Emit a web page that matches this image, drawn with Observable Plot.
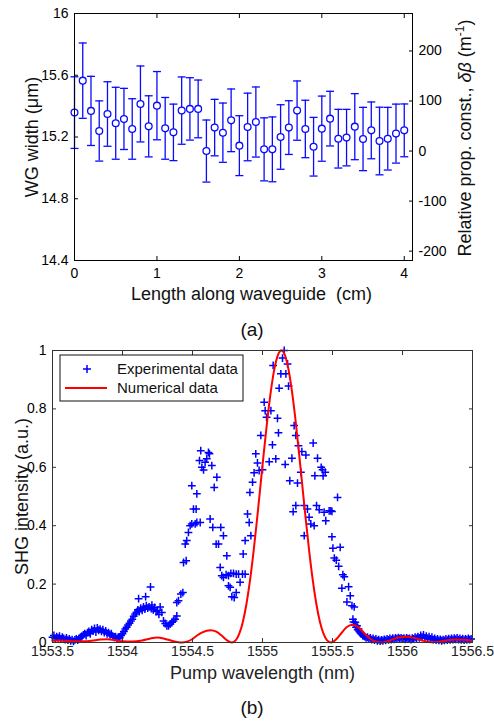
<!DOCTYPE html>
<html><head><meta charset="utf-8">
<script src="https://cdn.jsdelivr.net/npm/d3@7"></script>
<script src="https://cdn.jsdelivr.net/npm/@observablehq/plot@0.6"></script>
<style>
body{margin:0;background:#fff;font-family:"Liberation Sans",Arial,sans-serif;}
#wrap{position:relative;width:494px;height:721px;overflow:hidden;background:#fff;}
.cap{position:absolute;font-size:19px;color:#111;transform:translateX(-50%);line-height:24px;}
</style></head><body><div id="wrap"></div>
<script>
// ---------- (a) waveguide width ----------
const posA = [0,0.1,0.2,0.3,0.4,0.5,0.6,0.7,0.8,0.9,1,1.1,1.2,1.3,1.4,1.5,1.6,1.7,1.8,1.9,2,2.1,2.2,2.3,2.4,2.5,2.6,2.7,2.8,2.9,3,3.1,3.2,3.3,3.4,3.5,3.6,3.7,3.8,3.9,4];
const widthA = [15.358,15.565,15.369,15.239,15.349,15.289,15.317,15.252,15.414,15.269,15.403,15.256,15.230,15.371,15.382,15.382,15.109,15.261,15.228,15.308,15.144,15.265,15.297,15.120,15.120,15.200,15.261,15.371,15.252,15.137,15.254,15.319,15.189,15.196,15.267,15.187,15.243,15.174,15.189,15.222,15.243];
const errA = [0.232,0.244,0.224,0.195,0.209,0.233,0.198,0.196,0.246,0.198,0.221,0.200,0.183,0.218,0.202,0.187,0.201,0.183,0.192,0.203,0.194,0.219,0.227,0.204,0.210,0.209,0.174,0.192,0.186,0.190,0.211,0.177,0.190,0.183,0.214,0.205,0.184,0.219,0.203,0.191,0.171];
const lengthTicks = [0,1,2,3,4];
const widthTicks = [14.4,14.8,15.2,15.6,16];
const widthTickLabels = ["14.4","14.8","15.2","15.6","16"];
const dbetaTicks = [-200,-100,0,100,200];
const dbetaTickLabels = ["-200","-100","0","100","200"];
const widthAtZeroDbeta = 15.109, widthPerDbeta = 0.003242; // right-axis relation

// ---------- (b) SHG spectrum ----------
const lambdaExp = [
1553.50,1553.51,1553.52,1553.53,1553.54,1553.55,1553.56,1553.57,1553.58,1553.59,1553.60,1553.61,1553.62,1553.63,1553.64,1553.65,1553.66,1553.67,1553.68,1553.69,
1553.70,1553.71,1553.72,1553.73,1553.74,1553.75,1553.76,1553.77,1553.78,1553.79,1553.80,1553.81,1553.82,1553.83,1553.84,1553.85,1553.86,1553.87,1553.88,1553.89,
1553.90,1553.91,1553.92,1553.93,1553.94,1553.95,1553.96,1553.97,1553.98,1553.99,1554.00,1554.01,1554.02,1554.03,1554.04,1554.05,1554.06,1554.07,1554.08,1554.09,
1554.10,1554.11,1554.115,1554.12,1554.13,1554.14,1554.15,1554.16,1554.165,1554.17,1554.18,1554.19,1554.20,1554.205,1554.21,1554.22,1554.23,1554.24,1554.25,1554.26,
1554.269,1554.281,1554.293,1554.305,1554.317,1554.329,1554.340,1554.352,1554.364,1554.376,1554.388,1554.388,1554.400,1554.417,1554.431,1554.436,1554.455,1554.448,1554.459,1554.471,
1554.483,1554.495,1554.507,1554.526,1554.519,1554.531,1554.555,1554.495,1554.531,1554.550,1554.559,1554.567,1554.579,1554.590,1554.602,1554.614,1554.621,1554.638,1554.655,1554.674,
1554.626,1554.645,1554.669,1554.686,1554.702,1554.721,1554.745,1554.698,1554.709,1554.721,1554.740,1554.757,1554.774,1554.793,1554.812,1554.829,1554.840,1554.757,1554.769,1554.781,
1554.798,1554.812,
1554.857,1554.876,1554.862,1554.876,1554.893,1554.905,1554.917,1554.910,1554.929,1554.940,1554.952,1554.964,1554.976,1554.988,1555.000,1555.012,1555.019,1555.029,1555.048,1555.060,
1555.071,1555.076,1555.095,1555.107,1555.114,1555.119,1555.131,1555.143,1555.155,1555.167,1555.179,1555.186,1555.162,1555.195,1555.210,1555.226,1555.238,1555.250,1555.257,1555.219,
1555.238,1555.274,1555.281,1555.298,1555.310,1555.321,1555.333,1555.345,1555.362,1555.369,1555.298,1555.374,1555.386,1555.393,1555.405,1555.419,1555.429,1555.433,1555.440,1555.448,
1555.452,1555.476,1555.488,
1555.496,1555.496,1555.503,1555.513,1555.527,1555.536,1555.544,1555.555,1555.567,1555.574,1555.584,1555.603,1555.615,1555.627,1555.639,1555.646,1555.655,1555.663,1555.675,1555.686,
1555.698,1555.710,1555.722,1555.650,1555.658,1555.668,1555.680,1555.692,1555.704,1555.716,
1555.73,1555.74,1555.75,1555.76,1555.77,1555.78,1555.79,1555.80,1555.81,1555.82,1555.83,1555.84,1555.85,1555.86,1555.87,1555.88,1555.89,1555.90,1555.91,1555.92,
1555.93,1555.94,1555.95,1555.96,1555.97,1555.98,1555.99,1556.00,1556.01,1556.02,1556.03,1556.04,1556.05,1556.06,1556.07,1556.08,1556.09,1556.10,1556.11,1556.12,
1556.13,1556.14,1556.15,1556.16,1556.17,1556.18,1556.19,1556.20,1556.21,1556.22,1556.23,1556.24,1556.25,1556.26,1556.27,1556.28,1556.29,1556.30,1556.31,1556.32,
1556.33,1556.34,1556.35,1556.36,1556.37,1556.38,1556.39,1556.40,1556.41,1556.42,1556.43,1556.44,1556.45,1556.46,1556.47,1556.48,1556.49];
const shgExp = [
0.018,0.024,0.014,0.020,0.016,0.022,0.012,0.018,0.014,0.010,0.016,0.008,0.012,0.006,0.010,0.004,0.009,0.012,0.008,0.014,
0.018,0.022,0.026,0.030,0.024,0.034,0.038,0.030,0.044,0.040,0.048,0.036,0.050,0.042,0.046,0.038,0.044,0.034,0.040,0.030,
0.034,0.026,0.030,0.022,0.018,0.020,0.014,0.018,0.016,0.024,0.030,0.038,0.046,0.052,0.060,0.066,0.074,0.080,0.090,0.098,
0.104,0.112,0.150,0.106,0.118,0.110,0.122,0.114,0.157,0.126,0.118,0.122,0.190,0.116,0.128,0.112,0.120,0.106,0.110,0.096,
0.122,0.103,0.074,0.065,0.057,0.057,0.063,0.069,0.074,0.080,0.091,0.137,0.143,0.166,0.171,0.274,0.280,0.337,0.349,0.377,
0.400,0.406,0.457,0.457,0.406,0.411,0.411,0.537,0.509,0.623,0.657,0.600,0.591,0.617,0.629,0.651,0.646,0.606,0.531,0.566,
0.423,0.394,0.337,0.337,0.394,0.366,0.297,0.257,0.229,0.223,0.232,0.229,0.237,0.237,0.234,0.234,0.206,0.194,0.189,0.157,
0.154,0.171,
0.234,0.234,0.303,0.349,0.440,0.411,0.366,0.514,0.549,0.581,0.646,0.615,0.589,0.709,0.592,0.823,0.794,0.771,0.619,0.794,
0.677,0.949,0.629,0.768,0.718,0.871,0.920,0.974,1.000,0.920,0.954,0.878,0.610,0.554,0.631,0.743,0.709,0.546,0.674,0.448,
0.469,0.583,0.654,0.469,0.642,0.457,0.429,0.406,0.683,0.400,0.366,0.571,0.469,0.631,0.455,0.600,0.592,0.571,0.446,0.583,
0.417,0.451,0.451,
0.449,0.362,0.323,0.289,0.282,0.497,0.261,0.326,0.186,0.232,0.225,0.139,0.191,0.160,0.126,0.080,0.122,0.069,0.057,0.046,
0.034,0.029,0.023,0.070,0.062,0.052,0.044,0.038,0.030,0.024,
0.020,0.016,0.018,0.012,0.016,0.010,0.014,0.008,0.012,0.006,0.010,0.005,0.009,0.006,0.011,0.007,0.012,0.009,0.014,0.010,
0.015,0.011,0.016,0.012,0.017,0.013,0.016,0.012,0.015,0.011,0.016,0.012,0.014,0.010,0.015,0.012,0.018,0.014,0.020,0.016,
0.024,0.018,0.026,0.016,0.022,0.014,0.020,0.012,0.018,0.010,0.014,0.008,0.012,0.007,0.011,0.006,0.010,0.007,0.012,0.008,
0.013,0.009,0.014,0.010,0.015,0.011,0.016,0.010,0.014,0.009,0.013,0.008,0.012,0.009,0.014,0.010,0.012];
const lambdaNum = [1553.50,1553.54,1553.60,1553.66,1553.72,1553.78,1553.84,1553.89,1553.95,1554.00,1554.07,1554.14,1554.20,1554.25,1554.30,1554.35,1554.40,1554.425,1554.46,1554.50,
1554.53,1554.57,1554.63,1554.67,1554.71,1554.745,1554.78,
1554.810,1554.835,1554.860,1554.885,1554.910,1554.935,1554.960,1554.985,1555.010,1555.035,1555.060,1555.085,1555.110,1555.135,1555.160,1555.185,1555.210,1555.235,1555.260,1555.285,
1555.310,1555.335,1555.360,1555.385,1555.410,1555.435,1555.460,1555.490,
1555.525,1555.56,1555.60,1555.645,1555.69,1555.73,1555.77,1555.81,1555.85,1555.91,1555.97,1556.03,1556.09,1556.15,1556.21,1556.26,1556.32,1556.38,1556.44,1556.49];
const shgNum = [0.006,0.007,0.006,0.004,0.004,0.006,0.010,0.011,0.008,0.004,0.003,0.007,0.014,0.017,0.013,0.006,0.001,0.000,0.003,0.012,
0.023,0.035,0.042,0.037,0.023,0.008,0.000,
0.008,0.031,0.071,0.131,0.210,0.307,0.417,0.535,0.653,0.765,0.862,0.937,0.984,1.000,0.984,0.937,0.862,0.765,0.653,0.535,
0.417,0.307,0.210,0.131,0.071,0.031,0.008,0.000,
0.010,0.030,0.052,0.061,0.050,0.030,0.013,0.003,0.000,0.007,0.017,0.020,0.015,0.006,0.001,0.003,0.008,0.010,0.009,0.007];
const lambdaTicks = [1553.5,1554,1554.5,1555,1555.5,1556,1556.5];
const lambdaTickLabels = ["1553.5","1554","1554.5","1555","1555.5","1556","1556.5"];
const shgTicks = [0,0.2,0.4,0.6,0.8,1];
const shgTickLabels = ["0","0.2","0.4","0.6","0.8","1"];
const legendLabels = ["Experimental data","Numerical data"];

// ---------- helpers ----------
const FONT = '"Liberation Sans", Arial, Helvetica, sans-serif';
const plusSym = {draw(ctx, size){const r=Math.sqrt(size/Math.PI);ctx.moveTo(-r,0);ctx.lineTo(r,0);ctx.moveTo(0,-r);ctx.lineTo(0,r);}};
const capSym = {draw(ctx, size){const r=Math.sqrt(size/Math.PI);ctx.moveTo(-r,0);ctx.lineTo(r,0);}};
const lab = (vals, labels) => { const m = new Map(vals.map((v,i)=>[v,labels[i]])); return d => m.has(d) ? m.get(d) : ""; };
const blank = () => "";
const wrap = document.getElementById("wrap");

// ---------- chart (a) ----------
const tableA = posA.map((x,i)=>({x, w:widthA[i], lo:widthA[i]-errA[i], hi:widthA[i]+errA[i]}));
const dbetaPos = dbetaTicks.map(b => widthAtZeroDbeta + b*widthPerDbeta);
const blue = "#0a0aff";
const chartA = Plot.plot({
  width:494, height:310, marginLeft:74, marginRight:82, marginTop:13, marginBottom:50,
  x:{domain:[0,4.1]}, y:{domain:[14.4,16]},
  style:{fontFamily:FONT, fontSize:"14px", color:"#000", background:"transparent", overflow:"visible"},
  marks:[
    Plot.ruleX(tableA,{x:"x", y1:"lo", y2:"hi", stroke:blue, strokeWidth:1.3}),
    Plot.dot(tableA,{x:"x", y:"hi", symbol:capSym, r:4, stroke:blue, strokeWidth:1.3}),
    Plot.dot(tableA,{x:"x", y:"lo", symbol:capSym, r:4, stroke:blue, strokeWidth:1.3}),
    Plot.dot(tableA,{x:"x", y:"w", r:3.4, stroke:blue, fill:"white", strokeWidth:1.3}),
    Plot.frame({stroke:"#000", strokeWidth:1}),
    Plot.axisX(lengthTicks,{anchor:"bottom", tickSize:0, tickPadding:8, tickFormat:lab(lengthTicks, lengthTicks.map(String)), label:null}),
    Plot.axisX(lengthTicks,{anchor:"bottom", tickSize:-4, tickFormat:blank, label:null}),
    Plot.axisX(lengthTicks,{anchor:"top", tickSize:-4, tickFormat:blank, label:null}),
    Plot.axisY(widthTicks,{anchor:"left", tickSize:0, tickPadding:6, tickFormat:lab(widthTicks, widthTickLabels), label:null}),
    Plot.axisY(widthTicks,{anchor:"left", tickSize:-4, tickFormat:blank, label:null}),
    Plot.axisY(dbetaPos,{anchor:"right", tickSize:0, tickPadding:6, tickFormat:lab(dbetaPos, dbetaTickLabels), label:null}),
    Plot.axisY(dbetaPos,{anchor:"right", tickSize:-4, tickFormat:blank, label:null}),
    Plot.text(["Length along waveguide  (cm)"],{frameAnchor:"bottom", lineAnchor:"middle", textAnchor:"middle", dy:34, dx:8, fontSize:18, fill:"#111"}),
    Plot.text(["WG width (μm)"],{frameAnchor:"left", lineAnchor:"middle", textAnchor:"middle", dx:-42, rotate:-90, fontSize:18, fill:"#111"})
  ]
});
chartA.style.position="absolute"; chartA.style.left="0px"; chartA.style.top="0px";
{
  const t = d3.select(chartA).append("text")
    .attr("transform","translate(465,138) rotate(-90)")
    .attr("text-anchor","middle").attr("dy","0.35em")
    .attr("fill","#111").style("font-size","18px").style("font-family",FONT);
  t.append("tspan").text("Relative prop. const., ");
  t.append("tspan").attr("font-style","italic").text("δβ");
  t.append("tspan").text(" (m");
  t.append("tspan").attr("dy","-7").style("font-size","12px").text("-1");
  t.append("tspan").attr("dy","7").text(")");
}
wrap.appendChild(chartA);

// ---------- chart (b) ----------
const expData = lambdaExp.map((l,i)=>({l, s:shgExp[i]}));
const numData = lambdaNum.map((l,i)=>({l, s:shgNum[i]}));
const chartB = Plot.plot({
  width:494, height:381, marginLeft:52, marginRight:22, marginTop:10, marginBottom:79,
  x:{domain:[1553.5,1556.5]}, y:{domain:[0,1]},
  style:{fontFamily:FONT, fontSize:"14px", color:"#000", background:"transparent", overflow:"visible"},
  marks:[
    Plot.dot(expData,{x:"l", y:"s", symbol:plusSym, r:3.9, stroke:"#0000ff", strokeWidth:1.5}),
    Plot.line(numData,{x:"l", y:"s", stroke:"#ff0000", strokeWidth:2, curve:"monotone-x"}),
    Plot.frame({stroke:"#333", strokeWidth:1}),
    Plot.axisX(lambdaTicks,{anchor:"bottom", tickSize:0, tickPadding:4, tickFormat:lab(lambdaTicks, lambdaTickLabels), label:null, fill:"#222"}),
    Plot.axisX(lambdaTicks,{anchor:"bottom", tickSize:-4, tickFormat:blank, label:null, stroke:"#333"}),
    Plot.axisX(lambdaTicks,{anchor:"top", tickSize:-4, tickFormat:blank, label:null, stroke:"#333"}),
    Plot.axisY(shgTicks,{anchor:"left", tickSize:0, tickPadding:6, tickFormat:lab(shgTicks, shgTickLabels), label:null}),
    Plot.axisY(shgTicks,{anchor:"left", tickSize:-4, tickFormat:blank, label:null, stroke:"#333"}),
    Plot.axisY(shgTicks,{anchor:"right", tickSize:-4, tickFormat:blank, label:null, stroke:"#333"}),
    Plot.text(["Pump wavelength (nm)"],{frameAnchor:"bottom", lineAnchor:"middle", textAnchor:"middle", dy:31, fontSize:18, fill:"#222"}),
    Plot.text(["SHG intensity (a.u.)"],{frameAnchor:"left", lineAnchor:"middle", textAnchor:"middle", dx:-30, rotate:-90, fontSize:18, fill:"#111"})
  ]
});
chartB.style.position="absolute"; chartB.style.left="0px"; chartB.style.top="340px";
{
  const g = d3.select(chartB).append("g").style("font-family",FONT).attr("text-anchor","start");
  g.append("rect").attr("x",60).attr("y",15).attr("width",183).attr("height",46)
    .attr("fill","#fff").attr("stroke","#111").attr("stroke-width",1);
  g.append("path").attr("d","M83,29h8M87,25v8").attr("stroke","#0000ff").attr("stroke-width",1.5).attr("fill","none");
  g.append("path").attr("d","M65,48H107").attr("stroke","#ff0000").attr("stroke-width",2);
  g.append("text").attr("x",117).attr("y",29).attr("dy","0.35em").attr("text-anchor","start").style("font-size","15px").attr("fill","#111").text(legendLabels[0]);
  g.append("text").attr("x",117).attr("y",48).attr("dy","0.35em").attr("text-anchor","start").style("font-size","15px").attr("fill","#111").text(legendLabels[1]);
}
wrap.appendChild(chartB);

// captions
const capA = document.createElement("div"); capA.className="cap"; capA.textContent="(a)";
capA.style.left="252px"; capA.style.top="318px"; wrap.appendChild(capA);
const capB = document.createElement("div"); capB.className="cap"; capB.textContent="(b)";
capB.style.left="252px"; capB.style.top="696px"; wrap.appendChild(capB);
</script>
</body></html>
